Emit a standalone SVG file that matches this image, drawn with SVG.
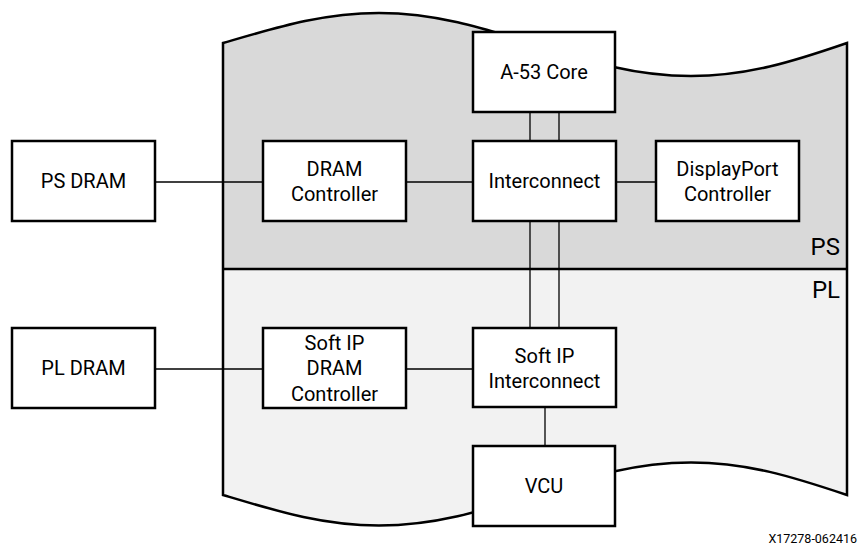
<svg xmlns="http://www.w3.org/2000/svg" width="861" height="546" viewBox="0 0 861 546">
  <style>
    .box { fill: #ffffff; stroke: #000000; stroke-width: 2.5; }
    .lbl { font-family: Roboto, "Liberation Sans", sans-serif; font-size: 20px; fill: #000000; text-anchor: middle; }
    .region { font-family: Roboto, "Liberation Sans", sans-serif; font-size: 24px; fill: #000000; text-anchor: end; }
    .conn { stroke: #000000; stroke-width: 1.3; fill: none; }
    .edge { stroke: #000000; stroke-width: 2.5; fill: none; stroke-linejoin: miter; }
  </style>

  <!-- Device slab: PS half (top) and PL half (bottom) with torn wavy edges -->
  <g id="device">
    <path id="ps-area" fill="#d9d9d9"
      d="M223,43 C277.6,27.2 322.8,13 379,13 C435.2,13 480.4,27.2 535,44.5 C589.6,61.8 634.8,76 691,76 C747.2,76 792.4,61.8 847,43 L847,269 L223,269 Z"/>
    <path id="pl-area" fill="#f2f2f2"
      d="M223,269 L847,269 L847,495 C792.4,476.7 747.2,462.5 691,462.5 C634.8,462.5 589.6,476.7 535,494 C480.4,511.3 435.2,525.5 379,525.5 C322.8,525.5 277.6,511.3 223,495 Z"/>
    <path class="edge"
      d="M223,43 C277.6,27.2 322.8,13 379,13 C435.2,13 480.4,27.2 535,44.5 C589.6,61.8 634.8,76 691,76 C747.2,76 792.4,61.8 847,43 L847,495 C792.4,476.7 747.2,462.5 691,462.5 C634.8,462.5 589.6,476.7 535,494 C480.4,511.3 435.2,525.5 379,525.5 C322.8,525.5 277.6,511.3 223,495 Z"/>
    <line class="edge" x1="223" y1="269" x2="847" y2="269"/>
    <text class="region" x="840" y="255">PS</text>
    <text class="region" x="840" y="298">PL</text>
  </g>

  <!-- Connectors -->
  <g id="connectors">
    <line class="conn" x1="155" y1="182" x2="263" y2="182"/>
    <line class="conn" x1="406" y1="182" x2="473" y2="182"/>
    <line class="conn" x1="616" y1="182" x2="656" y2="182"/>
    <line class="conn" x1="530" y1="112" x2="530" y2="141"/>
    <line class="conn" x1="559" y1="112" x2="559" y2="141"/>
    <line class="conn" x1="530" y1="221" x2="530" y2="328"/>
    <line class="conn" x1="559" y1="221" x2="559" y2="328"/>
    <line class="conn" x1="155" y1="369" x2="263" y2="369"/>
    <line class="conn" x1="406" y1="369" x2="473" y2="369"/>
    <line class="conn" x1="545" y1="407" x2="545" y2="446"/>
  </g>

  <!-- Blocks -->
  <g id="ps-dram">
    <rect class="box" x="12" y="141" width="143" height="80"/>
    <text class="lbl" x="83.5" y="188">PS DRAM</text>
  </g>
  <g id="dram-controller">
    <rect class="box" x="263" y="141" width="143" height="80"/>
    <text class="lbl" x="334.5" y="175.5">DRAM</text>
    <text class="lbl" x="334.5" y="200.5">Controller</text>
  </g>
  <g id="a53-core">
    <rect class="box" x="473" y="32" width="142" height="80"/>
    <text class="lbl" x="544" y="79">A-53 Core</text>
  </g>
  <g id="interconnect">
    <rect class="box" x="473" y="141" width="143" height="80"/>
    <text class="lbl" x="544.5" y="188">Interconnect</text>
  </g>
  <g id="displayport-controller">
    <rect class="box" x="656" y="141" width="143" height="80"/>
    <text class="lbl" x="727.5" y="175.5">DisplayPort</text>
    <text class="lbl" x="727.5" y="200.5">Controller</text>
  </g>
  <g id="pl-dram">
    <rect class="box" x="12" y="328" width="143" height="80"/>
    <text class="lbl" x="83.5" y="375">PL DRAM</text>
  </g>
  <g id="soft-ip-dram-controller">
    <rect class="box" x="263" y="328" width="143" height="80"/>
    <text class="lbl" x="334.5" y="349.5">Soft IP</text>
    <text class="lbl" x="334.5" y="375">DRAM</text>
    <text class="lbl" x="334.5" y="400.5">Controller</text>
  </g>
  <g id="soft-ip-interconnect">
    <rect class="box" x="473" y="328" width="143" height="79"/>
    <text class="lbl" x="544.5" y="362.5">Soft IP</text>
    <text class="lbl" x="544.5" y="387.5">Interconnect</text>
  </g>
  <g id="vcu">
    <rect class="box" x="473" y="446" width="142" height="80"/>
    <text class="lbl" x="544" y="493">VCU</text>
  </g>

  <text x="857" y="543" font-family="Roboto, 'Liberation Sans', sans-serif" font-size="12.5" text-anchor="end" fill="#000000">X17278-062416</text>
</svg>
